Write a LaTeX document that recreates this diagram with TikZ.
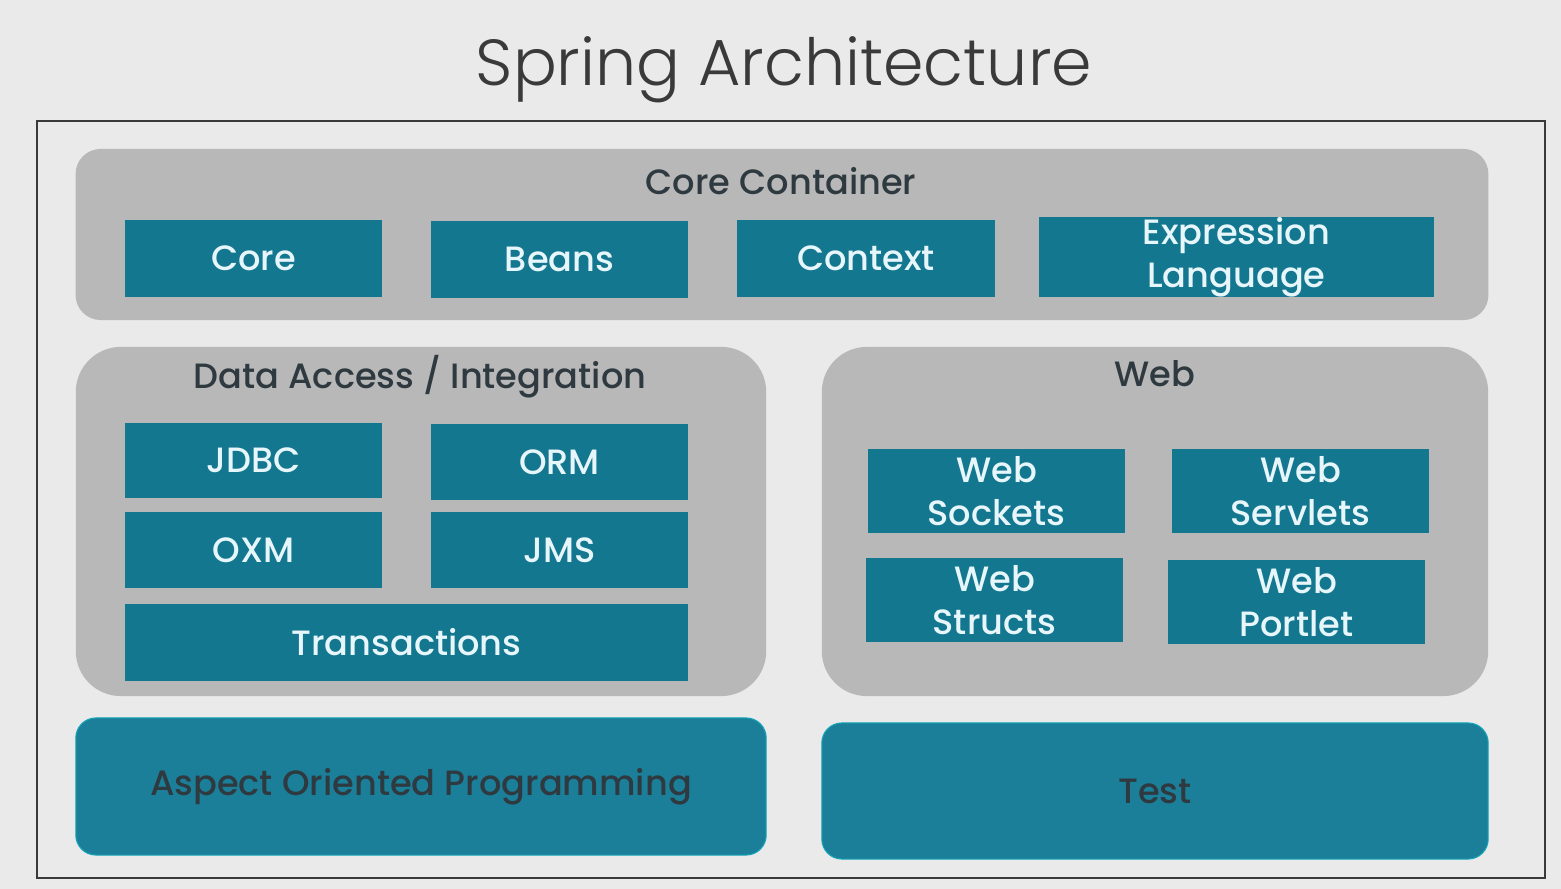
\documentclass[tikz,border=0pt]{standalone}
\usepackage{fontspec}
\setmainfont{Poppins}[UprightFont=* Medium]
\newfontfamily\titlefont{Poppins Light}
\definecolor{pagegray}{HTML}{EAEAEA}
\definecolor{framegray}{HTML}{3A3A3A}
\definecolor{groupgray}{HTML}{B8B8B8}
\definecolor{boxteal}{HTML}{147790}
\definecolor{boxtext}{HTML}{E6F6FA}
\definecolor{baseteal}{HTML}{1C7F9A}
\definecolor{darktext}{HTML}{2F3A40}
\begin{document}
\begin{tikzpicture}[x=0.01cm,y=-0.01cm,
  group/.style={fill=groupgray, rounded corners=0.45cm, inner sep=0pt},
  grouptitle/.style={text=darktext, font=\fontsize{10}{12.2}\selectfont, anchor=base},
  box/.style={fill=boxteal, text=boxtext, inner sep=0pt, align=center,
    minimum width=2.57cm, font=\fontsize{10}{12.2}\selectfont},
  basebox/.style={fill=baseteal, draw=baseteal!70!cyan, line width=0.3pt, text=darktext,
    rounded corners=0.2cm, inner sep=0pt, font=\fontsize{10}{12.2}\selectfont}]

\useasboundingbox (0,0) rectangle (1561,889);
\fill[pagegray] (0,0) rectangle (1561,889);

\node[anchor=base, text=framegray, font=\titlefont\fontsize{18.5}{22}\selectfont] (title) at (784,86) {Spring Architecture};

\draw[framegray, line width=0.7pt] (37,121) rectangle (1545,878);

% core container
\node[group, rounded corners=0.25cm, minimum width=14.12cm, minimum height=1.71cm] (coregroup) at (782,234.5) {};
\node[grouptitle] (coretitle) at (781,195) {Core Container};
\node[box, minimum height=0.77cm] (core) at (253.5,258.5) {Core};
\node[box, minimum height=0.77cm] (beans) at (559.5,259.5) {Beans};
\node[box, minimum height=0.77cm] (context) at (866,258.5) {Context};
\node[box, minimum width=3.95cm, minimum height=0.77cm] (expr) at (1236.5,257) {Expression\\Language};

% data access / integration
\node[group, minimum width=6.9cm, minimum height=3.49cm] (datagroup) at (421,521.5) {};
\node[grouptitle] (datatitle) at (420,389) {Data Access / Integration};
\node[box, minimum height=0.75cm] (jdbc) at (253.5,460.5) {JDBC};
\node[box, minimum height=0.76cm] (orm) at (559.5,462) {ORM};
\node[box, minimum height=0.76cm] (oxm) at (253.5,550) {OXM};
\node[box, minimum height=0.76cm] (jms) at (559.5,550) {JMS};
\node[box, minimum width=5.63cm, minimum height=0.77cm] (trans) at (406.5,642.5) {Transactions};

% web
\node[group, minimum width=6.66cm, minimum height=3.49cm] (webgroup) at (1155,521.5) {};
\node[grouptitle] (webtitle) at (1155,387) {Web};
\node[box, minimum height=0.84cm] (sockets) at (996.5,491) {Web\\Sockets};
\node[box, minimum height=0.84cm] (servlets) at (1300.5,491) {Web\\Servlets};
\node[box, minimum height=0.84cm] (structs) at (994.5,600) {Web\\Structs};
\node[box, minimum height=0.84cm] (portlet) at (1296.5,602) {Web\\Portlet};

% aop and test
\node[basebox, minimum width=6.9cm, minimum height=1.37cm] (aop) at (421,786.5) {Aspect Oriented Programming};
\node[basebox, minimum width=6.66cm, minimum height=1.36cm] (test) at (1155,791) {Test};
\end{tikzpicture}
\end{document}
